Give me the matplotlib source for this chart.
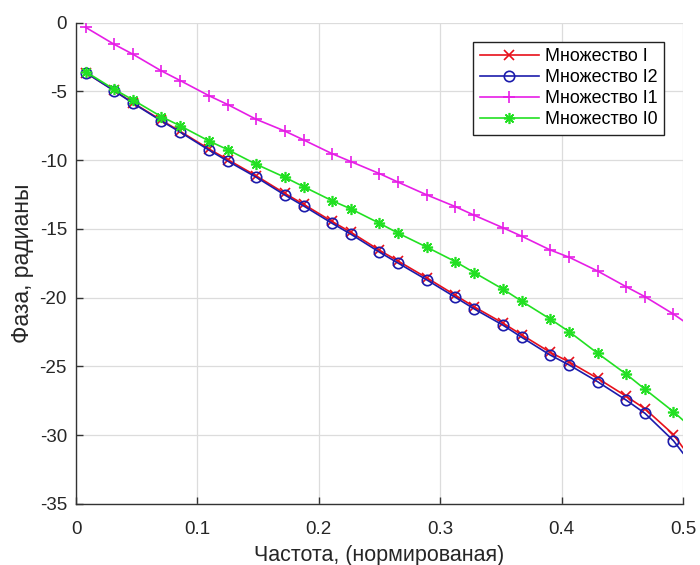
import numpy as np
import matplotlib
matplotlib.use("Agg")
import matplotlib.pyplot as plt

# frequency bin indices (N = 128, so bin/128 gives normalized frequency)
BINS = [1, 4, 6, 9, 11, 14, 16, 19, 22, 24, 27, 29, 32, 34, 37, 40, 42, 45,
        47, 50, 52, 55, 58, 60, 63, 64]
N_FFT = 128

PHASE_I = [-3.63, -4.93, -5.83, -7.10, -7.91, -9.18, -9.96, -11.14, -12.41,
           -13.21, -14.46, -15.25, -16.55, -17.35, -18.56, -19.82, -20.67,
           -21.84, -22.70, -23.97, -24.67, -25.86, -27.16, -28.08, -29.95, -30.90]
PHASE_I2 = [-3.63, -4.95, -5.86, -7.15, -7.97, -9.26, -10.07, -11.24, -12.53,
            -13.33, -14.59, -15.39, -16.69, -17.50, -18.71, -19.97, -20.82,
            -21.99, -22.88, -24.17, -24.89, -26.11, -27.44, -28.41, -30.40, -31.30]
PHASE_I1 = [-0.34, -1.57, -2.30, -3.51, -4.22, -5.31, -5.96, -7.03, -7.88,
            -8.53, -9.53, -10.11, -10.98, -11.61, -12.53, -13.38, -14.01,
            -14.91, -15.53, -16.53, -17.06, -18.06, -19.20, -19.93, -21.19, -21.67]
PHASE_I0 = [-3.56, -4.84, -5.62, -6.84, -7.51, -8.60, -9.24, -10.30, -11.24,
            -11.93, -12.95, -13.55, -14.59, -15.32, -16.33, -17.38, -18.18,
            -19.37, -20.26, -21.55, -22.47, -24.04, -25.55, -26.66, -28.29, -28.90]

LABELS = ["Множество I", "Множество I2", "Множество I1", "Множество I0"]

plt.rcParams["font.family"] = ["Liberation Sans", "DejaVu Sans"]
plt.rcParams["axes.unicode_minus"] = False

freq = np.array(BINS) / N_FFT
marks = list(range(len(BINS) - 1))  # last point only closes the line at 0.5

fig = plt.figure(figsize=(7.0, 5.65), dpi=100)
ax = fig.add_axes([0.1086, 0.108, 0.867, 0.852])

# MATLAB-like asterisk: 8 arms
asterisk = (8, 2, 0)
styles = [
    (PHASE_I,  "#e8101a", "x", 7, 1.2),
    (PHASE_I2, "#1c1cac", "o", 7.5, 1.2),
    (PHASE_I1, "#e61ee6", "+", 9, 1.2),
    (PHASE_I0, "#22e022", asterisk, 8, 1.2),
]
for (vals, color, mk, ms, mew), label in zip(styles, LABELS):
    ax.plot(freq, vals, color=color, lw=1.2, marker=mk, ms=ms, mew=mew,
            mfc="none", markevery=marks, label=label)

ax.set_xlim(0, 0.5)
ax.set_ylim(-35, 0)
ax.set_xticks([0, 0.1, 0.2, 0.3, 0.4, 0.5])
ax.set_xticklabels(["0", "0.1", "0.2", "0.3", "0.4", "0.5"])
ax.set_yticks([-35, -30, -25, -20, -15, -10, -5, 0])
ax.grid(True, color="#dcdcdc", lw=0.9)
ax.set_axisbelow(True)

for side in ("top", "right"):
    ax.spines[side].set_visible(False)
for side in ("left", "bottom"):
    ax.spines[side].set_color("#333333")
    ax.spines[side].set_linewidth(1.0)
ax.tick_params(direction="in", length=5, width=1.0, colors="#333333",
               labelsize=13.5, labelcolor="#262626")
ax.tick_params(axis="x", pad=12)
ax.tick_params(axis="y", pad=6.5)

ax.set_xlabel("Частота, (нормированая)", fontsize=15.5, color="#262626", labelpad=5)
ax.set_ylabel("Фаза, радианы", fontsize=16.5, color="#262626", labelpad=4)

leg = ax.legend(loc="upper right", bbox_to_anchor=(0.9687, 0.960),
                borderaxespad=0, fontsize=12.9, handlelength=3.3,
                labelspacing=0.23, handletextpad=0.35, borderpad=0.35,
                fancybox=False, framealpha=1, edgecolor="#222222")
leg.get_frame().set_linewidth(1.0)

fig.savefig("out.png", dpi=100, facecolor="white")
